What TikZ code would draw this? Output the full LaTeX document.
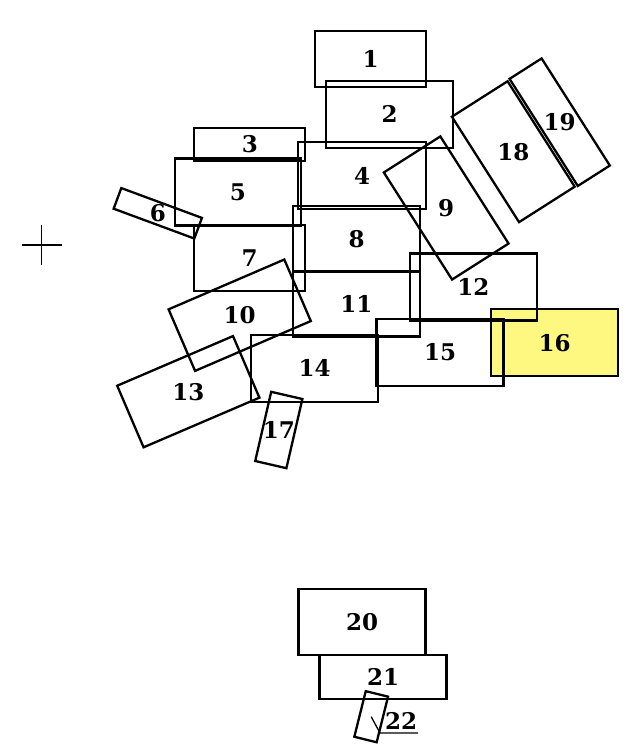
\documentclass[tikz,border=0pt]{standalone}
\usepackage{fontspec}
\setmainfont{DejaVu Serif}

\begin{document}
\begin{tikzpicture}[x=1pt, y=-1pt,
  room/.style={rectangle, draw, line width=2.3pt, inner sep=0pt},
  tag/.style={font=\fontsize{23}{23}\selectfont\bfseries, inner sep=1pt}
]
\useasboundingbox (0,0) rectangle (642,747);
% yellow one first so the others show on top
\node[room, fill=yellow!50, minimum width=127, minimum height=67] (r16) at (554.7,342.7) {};
\node[room, minimum width=111, minimum height=56]   (r1)  at (370.5,59.2) {};
\node[room, minimum width=127, minimum height=67]   (r2)  at (389.7,114.3) {};
\node[room, minimum width=111, minimum height=33]   (r3)  at (249.8,144.5) {};
\node[room, minimum width=128, minimum height=67]   (r4)  at (362,175.5) {};
\node[room, minimum width=126, minimum height=67]   (r5)  at (237.8,192) {};
\node[room, minimum width=86, minimum height=22, rotate=-20.3] (r6) at (157.8,213.3) {};
\node[room, minimum width=111, minimum height=66]   (r7)  at (249.5,258) {};
\node[room, minimum width=127, minimum height=66]   (r8)  at (356.5,239) {};
\node[room, minimum width=127, minimum height=67, rotate=-57.5] (r9) at (446.2,208) {};
\node[room, minimum width=126, minimum height=67, rotate=23.3] (r10) at (239.7,315.2) {};
\node[room, minimum width=127, minimum height=65]   (r11) at (356.3,304) {};
\node[room, minimum width=127, minimum height=67]   (r12) at (473.3,287) {};
\node[room, minimum width=126, minimum height=67, rotate=23.2] (r13) at (188.3,391.7) {};
\node[room, minimum width=127, minimum height=67]   (r14) at (314.7,368.3) {};
\node[room, minimum width=127, minimum height=67]   (r15) at (440,352.5) {};
\node[room, minimum width=32, minimum height=71, rotate=-13] (r17) at (278.8,430) {};
\node[room, minimum width=125, minimum height=66, rotate=-57.5] (r18) at (513.3,151.7) {};
\node[room, minimum width=127, minimum height=38, rotate=-57.5] (r19) at (559.7,122.2) {};
\node[room, minimum width=127, minimum height=66]   (r20) at (362,622) {};
\node[room, minimum width=127, minimum height=44]   (r21) at (383,677) {};
\node[room, minimum width=23, minimum height=47, rotate=-14] (r22) at (371.2,716.7) {};

% numbers
\foreach \n in {1,...,21}
  \node[tag] (t\n) at (r\n) {\n};
\node[tag] (t22) at (401,721) {22};
\coordinate (k22) at (380,733);
\draw[line width=1.3pt] (r22.center) -- (k22) -- (k22 -| t22.east);

% origin mark
\coordinate (origin) at (41.5,245);
\draw[line width=1.6pt] (origin) ++(-20,0) -- ++(40,0);
\draw[line width=1.6pt] (origin) ++(0,-20) -- ++(0,40);
\end{tikzpicture}
\end{document}
